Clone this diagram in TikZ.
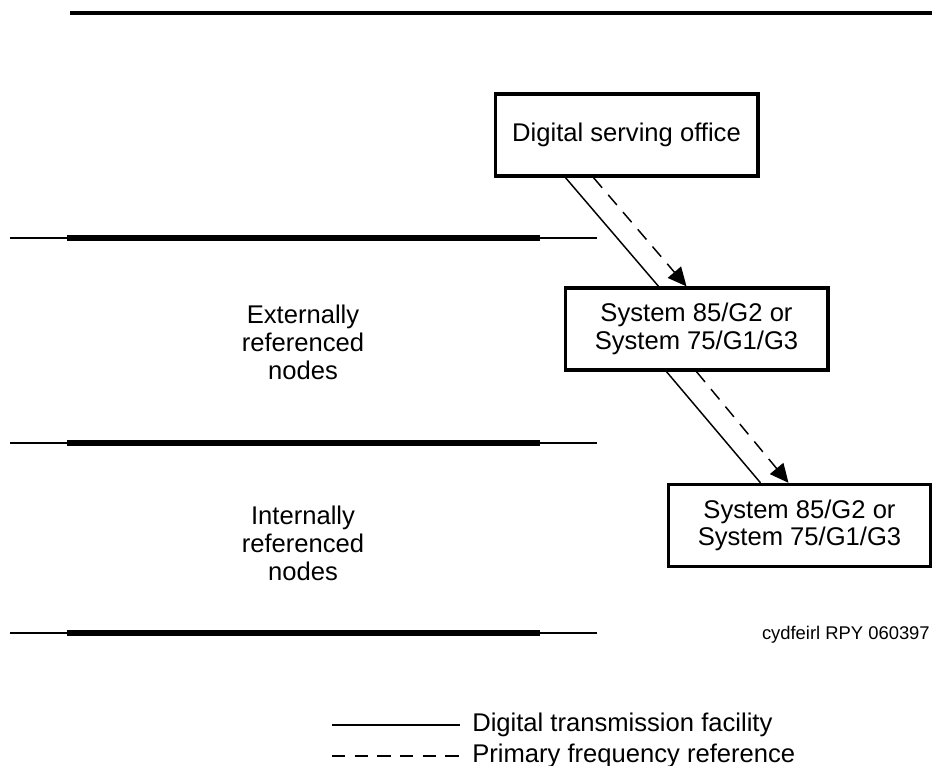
\documentclass[tikz,border=0pt]{standalone}
\usepackage{fontspec}
\setmainfont{Liberation Sans}
\usetikzlibrary{arrows.meta,calc}
\tikzset{
  sysbox/.style={draw,line width=2.5pt,minimum width=197pt,minimum height=61.5pt,
    align=center,inner sep=0pt,font=\fontsize{19.2}{20.5}\selectfont},
  facility/.style={line width=1.1pt},
  freqref/.style={line width=1.1pt,dash pattern=on 10pt off 7pt},
  tip/.style={-{Triangle[length=14pt,width=13pt]}},
  thinrule/.style={line width=1.1pt},
  thickrule/.style={line width=4.5pt},
  lbl/.style={font=\fontsize{19.2}{21}\selectfont,align=center,inner sep=0pt}
}
\begin{document}
\begin{tikzpicture}[x=0.75pt,y=-0.75pt]
\useasboundingbox (0,0) rectangle (932,766);
%top rule
\draw[line width=3pt](70,13)--(932,13);
%level rules
\foreach \y in {238,443,633}{
  \draw[thinrule](10,\y)--(597,\y);
  \draw[thickrule](67,\y)--(540,\y);
}
%levels
\node[lbl](ext)at(303,342){Externally\\referenced\\nodes};
\node[lbl](int)at(303,543){Internally\\referenced\\nodes};
%offices
\node[sysbox](dso)at(626.5,135){Digital serving office};
\node[sysbox](sysa)at(696.5,329){System 85/G2 or\\System 75/G1/G3};
\node[sysbox](sysb)at(799.5,525.5){System 85/G2 or\\System 75/G1/G3};
%links
\draw[facility]($(dso.south west)+(72,0)$)--($(sysa.north west)+(95,0)$);
\draw[freqref,tip]($(dso.south west)+(100,0)$)--($(sysa.north west)+(123,0)$);
\draw[facility]($(sysa.south west)+(103,0)$)--($(sysb.north west)+(94,0)$);
\draw[freqref,tip]($(sysa.south west)+(133,0)$)--($(sysb.north west)+(122,0)$);
%figure id
\node[anchor=east,inner sep=0pt,font=\fontsize{13.8}{16}\selectfont](figid)at(930,635){cydfeirl RPY 060397};
%legend
\coordinate(fa)at(332,725);
\coordinate(fb)at(460,725);
\coordinate(ra)at(332,756);
\coordinate(rb)at(460,756);
\draw[facility](fa)--(fb);
\draw[freqref](ra)--(rb);
\node[lbl,anchor=west](fkey)at(472,725){Digital transmission facility};
\node[lbl,anchor=west](rkey)at(472,756){Primary frequency reference};
\end{tikzpicture}
\end{document}
